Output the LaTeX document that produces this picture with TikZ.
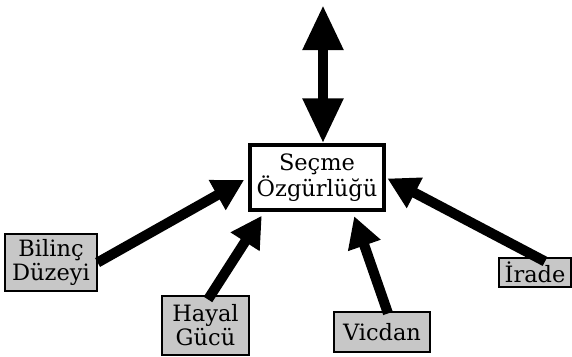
\documentclass[tikz,border=0pt]{standalone}
\usepackage{fontspec}
\setmainfont{DejaVu Serif}
\usepackage{tikz}
\usetikzlibrary{calc, arrows.meta}

\begin{document}
\begin{tikzpicture}[x=0.025cm, y=-0.025cm,
    mainbox/.style={draw, line width=2.2pt, fill=white, align=center, inner sep=0pt, minimum width=3.35cm, minimum height=1.625cm, font=\fontsize{16}{16.5}\selectfont},
    factorbox/.style={draw, line width=0.8pt, fill=black!22, align=center, inner sep=0pt, font=\fontsize{16}{17}\selectfont},
    sidearrow/.style={line width=7.2pt, -{Triangle[length=22pt, width=23pt]}, shorten >=3.5pt},
    bigarrow/.style={line width=7.8pt, {Triangle[length=32pt, width=27pt]}-{Triangle[length=32pt, width=27pt]}}]
    \useasboundingbox (0, 0) rectangle (572, 356);

    \node[mainbox] (secme) at (317, 177.5) {Seçme\\Özgürlüğü};
    \node[factorbox, minimum width=2.3cm, minimum height=1.425cm] (bilinc) at (51, 262.5) {Bilinç\\Düzeyi};
    \node[factorbox, minimum width=2.175cm, minimum height=1.475cm] (hayal) at (205.5, 325.5) {Hayal\\Gücü};
    \node[factorbox, minimum width=2.4cm, minimum height=1cm] (vicdan) at (382, 332) {Vicdan};
    \node[factorbox, minimum width=1.8cm, minimum height=0.725cm] (irade) at (535, 272.5) {İrade};
    \coordinate (top) at (323, 5);

    \draw[bigarrow] (top) -- (top |- secme.north);
    \draw[sidearrow] (bilinc.east) -- (secme.west);
    \draw[sidearrow] ($(hayal.north)+(2.5, 4)$) -- ($(secme.south west)+(16, 0)$);
    \draw[sidearrow] ($(vicdan.north)+(6, 2)$) -- ($(secme.south east)+(-33, 0)$);
    \draw[sidearrow, shorten >=1.5pt] ($(irade.north)+(10, 4)$) -- (secme.east);
\end{tikzpicture}
\end{document}
